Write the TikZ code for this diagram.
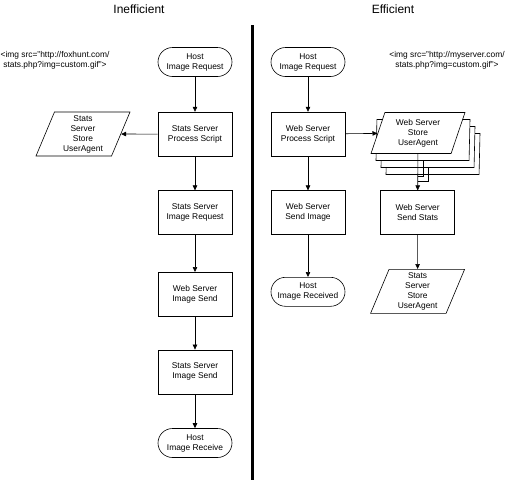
\documentclass[tikz,border=0pt]{standalone}
\usepackage{fontspec}
\setmainfont{Liberation Sans}
\usetikzlibrary{shapes.geometric, positioning, arrows.meta, calc}

\begin{document}
\begin{tikzpicture}[
    x=1pt, y=-1pt,
    line width=0.6pt,
    >={Triangle[length=5pt, width=4.5pt]},
    every node/.style={font=\fontsize{8.4}{10}\selectfont, align=center},
    process/.style={draw, minimum width=74pt, minimum height=44pt},
    terminal/.style={draw, rounded corners=14.5pt, minimum width=74pt, minimum height=29pt},
    data/.style={draw, fill=white, trapezium, trapezium left angle=65, trapezium right angle=115,
        trapezium stretches body, minimum width=94pt, minimum height=44pt, inner sep=1pt},
    title/.style={font=\fontsize{12}{14}\selectfont},
    node distance=35pt
]
\useasboundingbox (0,0) rectangle (507,480);

% Titles and separator
\node[title] (tIneff) at (139,9) {Inefficient};
\node[title] (tEff) at (393,9) {Efficient};
\coordinate (sepTop) at (252,25);
\coordinate (sepBot) at (252,480);
\draw[line width=3pt] (sepTop) -- (sepBot);

% Inefficient column
\node[terminal] (hostReq) at (195,62) {Host\\Image Request};
\node[process, below=35pt of hostReq] (ssScript) {Stats Server\\Process Script};
\node[process, below=34pt of ssScript] (ssReq) {Stats Server\\Image Request};
\node[process, below=37pt of ssReq] (wsSend) {Web Server\\Image Send};
\node[process, below=33pt of wsSend] (ssSend) {Stats Server\\Image Send};
\node[terminal, below=34pt of ssSend] (hostRecv) {Host\\Image Receive};
\node[data] (ssStore) at (83,134) {Stats\\Server\\Store\\UserAgent};
\node (srcFox) at (55,60) {<img src="http://foxhunt.com/\\stats.php?img=custom.gif">};

\draw[->] (hostReq) -- (ssScript);
\draw[->] (ssScript) -- (ssStore);
\draw[->] (ssScript) -- (ssReq);
\draw[->] (ssReq) -- (wsSend);
\draw[->] (wsSend) -- (ssSend);
\draw[->] (ssSend) -- (hostRecv);

% Efficient column
\node[terminal] (hostReqE) at (308,62) {Host\\Image Request};
\node[process, below=35pt of hostReqE] (wsScript) {Web Server\\Process Script};
\node[process, below=34pt of wsScript] (wsImage) {Web Server\\Send Image};
\node[terminal, below=42pt of wsImage] (hostRecvE) {Host\\Image Received};
\node[process, right=35pt of wsImage] (wsStats) {Web Server\\Send Stats};
\node[data, below=34pt of wsStats] (statsStore) {Stats\\Server\\Store\\UserAgent};
\node (srcMy) at (447,60) {<img src="http://myserver.com/\\stats.php?img=custom.gif">};

% stacked documents
\foreach \k in {3,2,1}
    \node[data, minimum height=41pt] (wsStore\k) at (418+5*\k,133+7*\k) {};
\node[data, minimum height=41pt] (wsStore) at (418,133) {Web Server\\Store\\UserAgent};

\draw[->] (hostReqE) -- (wsScript);
\draw[->] (wsScript) -- (wsStore);
\draw[->] (wsScript) -- (wsImage);
\draw[->] (wsImage) -- (hostRecvE);
\draw[->] (wsStore) -- (wsStats);
\foreach \k in {1,2}
    \draw (wsStore\k.south) |- ($(wsStore.south)+(0,17+5*\k)$);
\draw[->] (wsStats) -- (statsStore);

\end{tikzpicture}
\end{document}
